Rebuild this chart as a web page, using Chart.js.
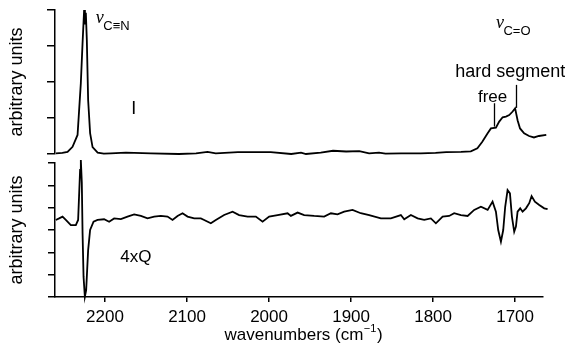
<!DOCTYPE html>
<html><head><meta charset="utf-8">
<script src="https://cdn.jsdelivr.net/npm/chart.js@4"></script>
<style>
html,body{margin:0;padding:0;background:#fff;}
#wrap{position:relative;width:565px;height:346px;overflow:hidden;}
canvas{position:absolute;left:0;top:0;}
</style></head><body>
<div id="wrap"><canvas id="cTop" width="565" height="346"></canvas><canvas id="cBot" width="565" height="346"></canvas></div>
<script>
// ---- data ----
const xTicks = [2200, 2100, 2000, 1900, 1800, 1700];
const topYTicks = [0, 1, 2, 3, 4];
const botYTicks = [0, 1, 2, 3, 4, 5, 6];

const topWavenumbers = [2260,2252,2245.7,2239.6,2233.5,2229.5,2227.4,2225.5,2224.5,2223.4,2222.2,2220.6,2218.2,2215.2,2209,2201.5,2193,2174.6,2144,2110,2089,2075,2065,2038,1998,1973,1961,1955,1937,1922,1906,1890,1878,1866,1858,1839,1815,1797,1784,1766,1754,1746,1740,1733.5,1729.5,1723.4,1719.4,1715.2,1711.2,1707.2,1703,1700,1697,1694,1689,1683,1677,1671,1662];
const topValues = [0.02,0.03,0.06,0.2,0.53,1.97,3.08,4.0,3.6,3.92,3.17,1.5,0.58,0.19,0.04,0.01,0.02,0.04,0.02,0,0.02,0.06,0.02,0.05,0.05,0,0.04,0,0.04,0.09,0.07,0.08,0.02,0.04,0.01,0.02,0.02,0.03,0.05,0.06,0.075,0.16,0.34,0.575,0.71,0.73,0.9,1.02,1.04,1.08,1.18,1.27,0.94,0.71,0.575,0.5,0.46,0.5,0.53];

const botWavenumbers = [2260,2256,2251.8,2247.8,2241.7,2235.6,2232.8,2230.4,2229.5,2228.3,
2227.4,2226.2,2224.6,2223,2220.6,2218.2,2214,2209.1,2201.1,2195,
2188.9,2180.7,2172.6,2164.5,2156.3,2148.2,2140.1,2132,2123.8,2117.7,
2111.6,2105.5,2099.4,2091.3,2083.2,2079.1,2071,2064.9,2054.8,2044.5,
2036.5,2026.2,2016.1,2007.9,1999.9,1989.6,1977.4,1973.4,1965.2,1957.2,
1945,1932.8,1924.6,1916.5,1908.4,1898.2,1888.2,1877.9,1863.7,1851.5,
1839.3,1835.2,1827.1,1818.9,1810.9,1802.7,1796.6,1788.4,1780.4,1774.3,
1766.1,1757.9,1749.9,1741.7,1733.5,1727.5,1723.4,1720.6,1717.3,1714.5,
1712.1,1709.2,1706.3,1703.9,1701.1,1699,1697,1693.8,1690.9,1686.8,
1682.8,1679.9,1675.9,1670.6,1664.5,1660.4];
const botValues = [3.45,3.52,3.60,3.45,3.22,3.22,3.45,5.69,6.13,5.11,
2.87,0.91,0.01,0.31,2.10,3.0,3.37,3.45,3.48,3.37,
3.52,3.49,3.60,3.70,3.63,3.52,3.60,3.63,3.60,3.45,
3.63,3.75,3.60,3.52,3.52,3.45,3.30,3.45,3.67,3.82,
3.67,3.60,3.60,3.37,3.60,3.67,3.75,3.63,3.78,3.67,
3.63,3.60,3.75,3.70,3.82,3.90,3.75,3.67,3.52,3.52,
3.67,3.48,3.67,3.52,3.45,3.52,3.30,3.60,3.63,3.75,
3.67,3.63,3.90,4.04,3.90,4.27,3.82,3.0,2.48,3.0,
4.04,4.79,4.64,3.60,2.92,3.15,3.82,3.97,3.82,3.97,
4.20,4.52,4.27,4.12,3.97,3.93];

// label anchors (data coordinates)
const topTexts = [
  {text:'I', x:2165, y:1.12, font:'18px "Liberation Sans"'},
  {text:'hard segment', x:1706, y:2.13, font:'18px "Liberation Sans"'},
  {text:'free', x:1727.5, y:1.45, font:'17px "Liberation Sans"'}
];
const topPointers = [
  {x:1725.5, y1:1.41, y2:0.76},
  {x:1699, y1:1.92, y2:1.28}
];
const topNu = [
  {x:2211.2, y:3.63, sub:'C\u2261N'},
  {x:1723.4, y:3.49, sub:'C=O'}
];
const botTexts = [
  {text:'4xQ', x:2162.4, y:1.58, font:'17px "Liberation Sans"'}
];

// ---- chart ----
Chart.defaults.font.family = '"Liberation Sans", Arial, sans-serif';
Chart.defaults.color = '#000';
const X_MIN = 1666, X_MAX = 2261;

const annot = {
  id: 'annot',
  afterDatasetsDraw(chart, args, o) {
    const ctx = chart.ctx, xs = chart.scales.x, ys = chart.scales.y;
    ctx.save();
    ctx.fillStyle = '#000'; ctx.strokeStyle = '#000';
    ctx.textBaseline = 'alphabetic';
    (o.texts || []).forEach(t => {
      ctx.font = t.font; ctx.textAlign = 'center';
      ctx.fillText(t.text, xs.getPixelForValue(t.x), ys.getPixelForValue(t.y));
    });
    ctx.lineWidth = 1.3;
    (o.pointers || []).forEach(p => {
      const px = Math.round(xs.getPixelForValue(p.x)) + 0.5;
      ctx.beginPath();
      ctx.moveTo(px, ys.getPixelForValue(p.y1));
      ctx.lineTo(px, ys.getPixelForValue(p.y2));
      ctx.stroke();
    });
    (o.nu || []).forEach(n => {
      const px = xs.getPixelForValue(n.x), py = ys.getPixelForValue(n.y);
      ctx.textAlign = 'left';
      ctx.font = 'italic 18px "Liberation Serif"';
      ctx.fillText('\u03BD', px, py);
      const w = ctx.measureText('\u03BD').width;
      ctx.font = '13px "Liberation Sans"';
      ctx.fillText(n.sub, px + w - 0.5, py + 6.7);
    });
    if (o.xTitle) {
      const ca = chart.chartArea;
      const cx = (ca.left + ca.right) / 2 + 4, by = 340;
      const main = 'wavenumbers (cm', sup = '\u22121', end = ')';
      ctx.font = '17px "Liberation Sans"';
      const w1 = ctx.measureText(main).width, w3 = ctx.measureText(end).width;
      ctx.font = '11px "Liberation Sans"';
      const w2 = ctx.measureText(sup).width;
      let x0 = cx - (w1 + w2 + w3) / 2;
      ctx.textAlign = 'left';
      ctx.font = '17px "Liberation Sans"';
      ctx.fillText(main, x0, by);
      ctx.font = '11px "Liberation Sans"';
      ctx.fillText(sup, x0 + w1 + 0.5, by - 8.3);
      ctx.font = '17px "Liberation Sans"';
      ctx.fillText(end, x0 + w1 + w2 + 1, by);
    }
    ctx.restore();
  }
};

function yAxis(ticksArr, max, tl) {
  return {
    min: 0, max: max,
    afterBuildTicks: s => { s.ticks = ticksArr.map(v => ({value: v})); },
    ticks: {display: false},
    grid: {drawOnChartArea: false, drawTicks: true, tickLength: tl, color: '#000', lineWidth: 1.5},
    border: {display: true, color: '#000', width: 1.5},
    title: {display: true, text: 'arbitrary units', color: '#000', font: {size: 18}, padding: {top: 6, bottom: 0}},
    afterFit: s => { s.width = 55; }
  };
}

function ds(xArr, yArr) {
  return {
    data: xArr.map((x, i) => ({x: x, y: yArr[i]})),
    borderColor: '#000', borderWidth: 1.8, pointRadius: 0, tension: 0, fill: false, clip: false
  };
}

new Chart(document.getElementById('cTop'), {
  type: 'line',
  data: {datasets: [ds(topWavenumbers, topValues)]},
  options: {
    responsive: false, animation: false, devicePixelRatio: 1,
    layout: {padding: {left: 0, right: 22, top: 10, bottom: 192}},
    plugins: {legend: {display: false}, tooltip: {enabled: false},
      annot: {texts: topTexts, pointers: topPointers, nu: topNu}},
    scales: {
      x: {type: 'linear', reverse: true, min: X_MIN, max: X_MAX, display: false},
      y: yAxis(topYTicks, 4, 8)
    }
  },
  plugins: [annot]
});

new Chart(document.getElementById('cBot'), {
  type: 'line',
  data: {datasets: [ds(botWavenumbers, botValues)]},
  options: {
    responsive: false, animation: false, devicePixelRatio: 1,
    layout: {padding: {left: 0, right: 22, top: 163, bottom: 0}},
    plugins: {legend: {display: false}, tooltip: {enabled: false},
      annot: {texts: botTexts, xTitle: true}},
    scales: {
      x: {
        type: 'linear', reverse: true, min: X_MIN, max: X_MAX,
        afterBuildTicks: s => { s.ticks = xTicks.map(v => ({value: v})); },
        ticks: {color: '#000', font: {size: 17}, padding: 5, maxRotation: 0, autoSkip: false, callback: v => String(v)},
        grid: {drawOnChartArea: false, drawTicks: true, tickLength: 5, color: '#000', lineWidth: 1.5},
        border: {display: true, color: '#000', width: 1.5},
        afterFit: s => { s.height = 49; }
      },
      y: yAxis(botYTicks, 6, 7)
    }
  },
  plugins: [annot]
});
</script>
</body></html>
